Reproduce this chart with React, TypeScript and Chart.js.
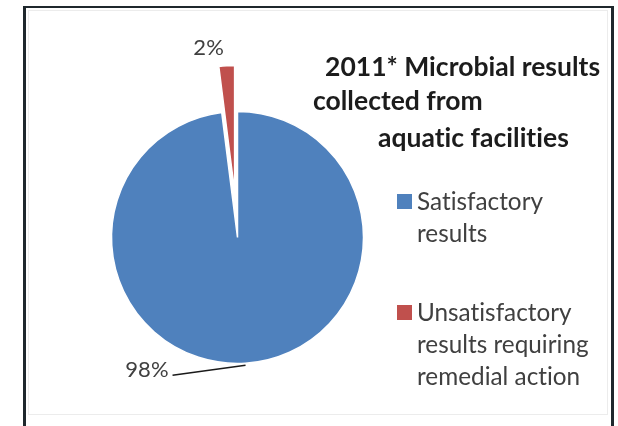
import { useEffect, useRef } from "react";
import { Chart, registerables } from "chart.js";

Chart.register(...registerables);

// ---- data ----
const categories = [
  "Satisfactory results",
  "Unsatisfactory results requiring remedial action",
];
const shares = [98, 2];
const shareLabels = ["98%", "2%"];
const sliceColors = ["#4F81BD", "#C0504D"];
const titleLines = ["2011* Microbial results", "collected from", "aquatic facilities"];

// explode selected slices outward (pixels along the slice's mid angle)
const explodePlugin = {
  id: "explode",
  afterDatasetUpdate(chart: any, args: any, opts: any) {
    const meta = chart.getDatasetMeta(args.index);
    const dist: number[] = opts.distances || [];
    meta.data.forEach((arc: any, i: number) => {
      const d = dist[i] || 0;
      if (!d) return;
      const mid = (arc.startAngle + arc.endAngle) / 2;
      arc.x += Math.cos(mid) * d;
      arc.y += Math.sin(mid) * d;
    });
  },
};

function wrap(ctx: CanvasRenderingContext2D, text: string, maxW: number): string[] {
  const words = text.split(" ");
  const lines: string[] = [];
  let cur = "";
  for (const w of words) {
    const t = cur ? cur + " " + w : w;
    if (cur && ctx.measureText(t).width > maxW) {
      lines.push(cur);
      cur = w;
    } else cur = t;
  }
  if (cur) lines.push(cur);
  return lines;
}

const textPlugin = {
  id: "excelText",
  afterDraw(chart: any, _args: any, opts: any) {
    const ctx: any = chart.ctx;
    ctx.save();
    try {
      ctx.textRendering = "optimizeSpeed";
      ctx.letterSpacing = "0.01px";
    } catch (e) {}
    // title
    ctx.fillStyle = opts.titleColor;
    ctx.font = opts.titleFont;
    ctx.textAlign = "left";
    ctx.textBaseline = "alphabetic";
    titleLines.forEach((line, i) => {
      const p = opts.titlePos[i];
      ctx.fillText(line, p.x, p.y);
    });
    // legend
    const lg = opts.legend;
    ctx.font = lg.font;
    let y = lg.y;
    categories.forEach((cat, i) => {
      const lines = wrap(ctx, cat, lg.wrapWidth);
      ctx.fillStyle = sliceColors[i];
      ctx.fillRect(lg.x, y - lg.box - 1, lg.box, lg.box);
      ctx.fillStyle = lg.color;
      lines.forEach((ln: string, j: number) =>
        ctx.fillText(ln, lg.x + lg.box + 5, y + j * lg.lineHeight)
      );
      y += lines.length * lg.lineHeight + lg.gap;
    });
    // data labels
    const meta = chart.getDatasetMeta(0);
    ctx.font = opts.labelFont;
    meta.data.forEach((arc: any, i: number) => {
      const mid = (arc.startAngle + arc.endAngle) / 2;
      const r = arc.outerRadius + 2;
      const ax = arc.x + Math.cos(mid) * r;
      const ay = arc.y + Math.sin(mid) * r;
      const o = opts.labelOffsets[i];
      const ex = ax + o.dx;
      const ey = ay + o.dy;
      if (o.leader) {
        ctx.strokeStyle = "#1a1a1a";
        ctx.lineWidth = 1.5;
        ctx.beginPath();
        ctx.moveTo(ax, ay);
        ctx.lineTo(ex, ey);
        ctx.stroke();
        ctx.fillStyle = opts.labelColor;
        ctx.textAlign = "right";
        ctx.fillText(shareLabels[i], ex - 4, ey + 2);
      } else {
        ctx.fillStyle = opts.labelColor;
        ctx.textAlign = "center";
        ctx.fillText(shareLabels[i], ex, ey);
      }
    });
    ctx.restore();
  },
};

export default function App() {
  const ref = useRef<HTMLCanvasElement | null>(null);

  useEffect(() => {
    if (!ref.current) return;
    const chart = new Chart(ref.current, {
      type: "pie",
      data: {
        labels: categories,
        datasets: [
          {
            data: shares,
            backgroundColor: sliceColors,
            borderColor: "#ffffff",
            borderWidth: 1.5,
          },
        ],
      },
      options: {
        responsive: false,
        animation: false,
        radius: 126,
        layout: { padding: { left: 100, right: 243, top: 100, bottom: 51 } },
        plugins: {
          legend: { display: false },
          title: { display: false },
          tooltip: { enabled: false },
          explode: { distances: [0, 46] },
          excelText: {
            titleColor: "#1c1c1c",
            titleFont: "bold 26.5px Lato",
            titlePos: [
              { x: 325, y: 76 },
              { x: 313, y: 110 },
              { x: 378, y: 147 },
            ],
            legend: {
              x: 397,
              y: 210,
              box: 15,
              font: "24.3px Lato",
              color: "#404040",
              lineHeight: 32,
              gap: 47,
              wrapWidth: 178,
            },
            labelFont: "22px Lato",
            labelColor: "#404040",
            labelOffsets: [
              { dx: -73, dy: 10, leader: true },
              { dx: -18, dy: -9, leader: false },
            ],
          },
        } as any,
      },
      plugins: [explodePlugin, textPlugin],
    });
    return () => chart.destroy();
  }, []);

  return (
    <div
      style={{
        position: "absolute",
        left: 0,
        top: 0,
        width: 618,
        height: 426,
        overflow: "hidden",
        background: "#ffffff",
      }}
    >
      <div
        style={{
          position: "absolute",
          left: 23,
          top: 6,
          width: 591,
          height: 420,
          boxSizing: "border-box",
          borderLeft: "3px solid #1f282d",
          borderTop: "2px solid #1f282d",
          borderRight: "3px solid #1f282d",
        }}
      />
      <div
        style={{
          position: "absolute",
          left: 28,
          top: 10,
          width: 580,
          height: 405,
          boxSizing: "border-box",
          border: "1px solid #ececec",
        }}
      />
      <canvas
        ref={ref}
        width={618}
        height={426}
        style={{ position: "absolute", left: 0, top: 0 }}
      />
    </div>
  );
}
